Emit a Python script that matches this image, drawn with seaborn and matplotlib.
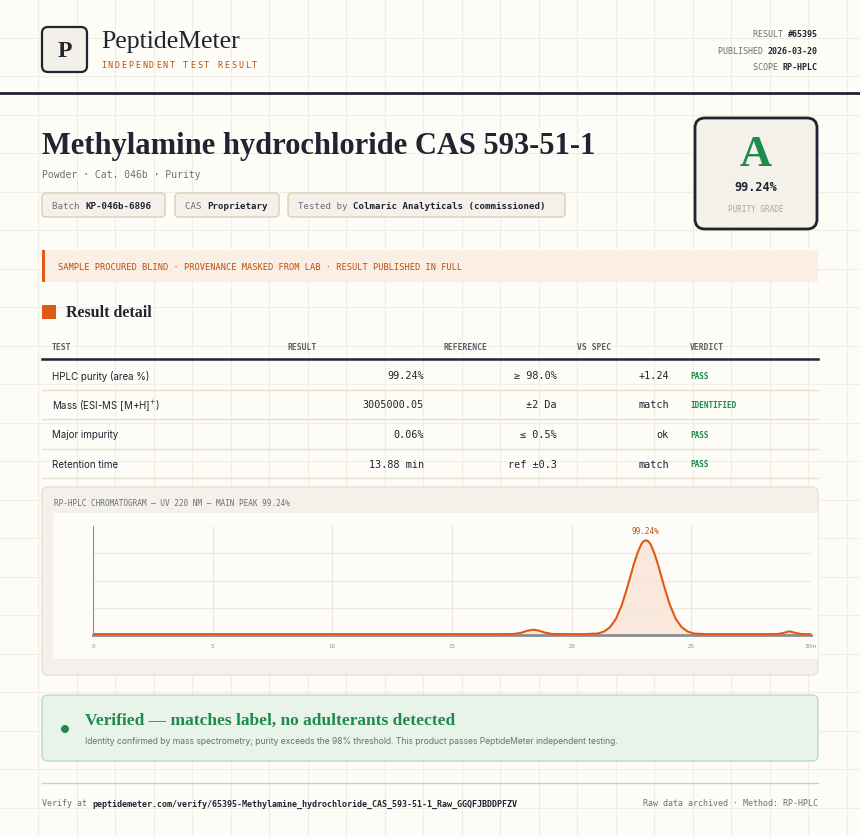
import matplotlib
matplotlib.use("Agg")
import matplotlib.pyplot as plt
import numpy as np
import pandas as pd
import seaborn as sns
from matplotlib.patches import FancyBboxPatch, Rectangle, Circle

# Chromatogram samples (minutes, relative signal %)
TIMES = [0, 17.0, 17.6, 17.9, 18.15, 18.4, 18.65, 18.9, 19.2, 19.8,
         20.5, 21.1, 21.35, 21.6, 21.85, 22.1, 22.35, 22.6, 22.75, 22.9, 23.0, 23.1,
         23.2, 23.3, 23.45, 23.6, 23.85, 24.1, 24.35, 24.6, 24.85, 25.1, 25.6,
         28.1, 28.6, 28.85, 29.1, 29.35, 29.6, 30.0]
SIGNAL = [0.9, 0.9, 1.1, 2.4, 4.5, 5.6, 4.5, 2.4, 1.1, 0.9,
          0.9, 1.6, 3.6, 8.2, 17.0, 32.0, 52.5, 75.0, 86.5, 95.4, 98.9, 100.0,
          98.9, 95.6, 86.5, 75.0, 52.5, 32.0, 17.0, 8.2, 3.6, 1.6, 0.9,
          0.9, 1.0, 2.2, 3.9, 2.2, 1.0, 0.9]
MAIN_PEAK = (23.1, 100.0, "99.24%")
X_TICKS = [0, 5, 10, 15, 20, 25, 30]
X_TICK_LABELS = ["0", "5", "10", "15", "20", "25", "30m"]

TABLE_HEADER = ["TEST", "RESULT", "REFERENCE", "VS SPEC", "VERDICT"]
TESTS = ["HPLC purity (area %)", "Mass (ESI-MS [M+H]$^{+}$)", "Major impurity", "Retention time"]
RESULTS = ["99.24%", "3005000.05", "0.06%", "13.88 min"]
REFERENCES = ["\u2265 98.0%", "\u00b12 Da", "\u2264 0.5%", "ref \u00b10.3"]
VS_SPEC = ["+1.24", "match", "ok", "match"]
VERDICTS = ["PASS", "IDENTIFIED", "PASS", "PASS"]

W, H = 860, 837
BG = "#fdfcf7"
INK = "#1e2430"
GRAY = "#6b6f78"
ORANGE = "#e05a14"
ORANGE_D = "#b8500f"
GREEN = "#1f8a4c"
MONO = "DejaVu Sans Mono"
SERIF = "Liberation Serif"
SANS = "Inter"

fig = plt.figure(figsize=(W / 100, H / 100), dpi=100, facecolor=BG)
page = fig.add_axes([0, 0, 1, 1])
page.set_xlim(0, W)
page.set_ylim(H, 0)
page.axis("off")

# faint page grid
for gx in np.arange(38, W, 38.5):
    page.axvline(gx, color="#efede4", lw=0.8, zorder=0)
for gy in np.arange(0, H, 38.5):
    page.axhline(gy, color="#efede4", lw=0.8, zorder=0)


def box(x0, y0, x1, y1, fc, ec="none", lw=1.0, r=4, z=1):
    page.add_patch(FancyBboxPatch((x0, y0), x1 - x0, y1 - y0,
                                  boxstyle=f"round,pad=0,rounding_size={r}",
                                  fc=fc, ec=ec, lw=lw, zorder=z))


def mono_pair(x, y, label, value, size, ha="left", lc=GRAY, vc=INK):
    cw = 0.602 * size * 100 / 72
    total = len(label + value) * cw
    start = x if ha == "left" else x - total
    page.text(start, y, label, family=MONO, size=size, color=lc, va="center", zorder=5)
    page.text(start + len(label) * cw, y, value, family=MONO, size=size, color=vc,
              weight="bold", va="center", zorder=5)


# header
box(42, 28, 87, 73, "#f3f0e8", INK, 1.6, r=6)
page.text(64.5, 51, "P", family=SERIF, size=17, weight="bold", color=INK, ha="center", va="center")
page.text(101, 42, "PeptideMeter", family=SERIF, size=18.5, color=INK, va="center")
for k, ch in enumerate("INDEPENDENT TEST RESULT"):
    page.text(101 + k * 6.85, 65, ch, family=MONO, size=6, color=ORANGE_D, va="center")
mono_pair(818, 34, "RESULT ", "#65395", 6, ha="right")
mono_pair(818, 51, "PUBLISHED ", "2026-03-20", 6, ha="right")
mono_pair(818, 67, "SCOPE ", "RP-HPLC", 6, ha="right")
page.axhline(94, color=INK, lw=2)

# title block
page.text(42, 146, "Methylamine hydrochloride CAS 593-51-1", family=SERIF, size=22,
          weight="bold", color=INK, va="center")
page.text(42, 175, "Powder \u00b7 Cat. 046b \u00b7 Purity", family=MONO, size=7, color=GRAY, va="center")
for x0, x1, label, value in [(42, 165, "Batch ", "KP-046b-6896"),
                             (175, 279, "CAS ", "Proprietary"),
                             (288, 565, "Tested by ", "Colmaric Analyticals (commissioned)")]:
    box(x0, 194, x1, 218, "#f4f1ea", "#d9cfb8", 1.0, r=4)
    mono_pair(x0 + 10, 206, label, value, 6.6)

box(695, 119, 817, 230, "#f4f1ea", INK, 2.0, r=10)
page.text(756, 155, "A", family=SERIF, size=32, weight="bold", color=GREEN, ha="center", va="center")
page.text(756, 187, "99.24%", family=MONO, size=8.5, weight="bold", color=INK, ha="center", va="center")
page.text(756, 209, "PURITY GRADE", family=MONO, size=5.5, color="#a9a69e", ha="center", va="center")

# banner
page.add_patch(Rectangle((42, 251), 776, 32, fc="#fbeee4", ec="none", zorder=1))
page.add_patch(Rectangle((42, 251), 3, 32, fc=ORANGE, ec="none", zorder=2))
page.text(58, 267, "SAMPLE PROCURED BLIND \u00b7 PROVENANCE MASKED FROM LAB \u00b7 RESULT PUBLISHED IN FULL",
          family=MONO, size=6.2, color=ORANGE_D, va="center")

# result detail table
page.add_patch(Rectangle((42, 306), 14, 14, fc=ORANGE, ec="none"))
page.text(66, 313, "Result detail", family=SERIF, size=11.5, weight="bold", color=INK, va="center")
for x, label in zip([52, 288, 443, 577, 690], TABLE_HEADER):
    page.text(x, 347, label, family=MONO, size=5.8, weight="bold", color="#5a5f6a", va="center")
page.plot([42, 818], [360, 360], color=INK, lw=1.8)
for i in range(len(TESTS)):
    y = 376 + i * 29.5
    page.text(52, y, TESTS[i], family=SANS, size=7, color=INK, va="center")
    page.text(424, y, RESULTS[i], family=MONO, size=7.3, color=INK, ha="right", va="center")
    page.text(557, y, REFERENCES[i], family=MONO, size=7.3, color=INK, ha="right", va="center")
    page.text(669, y, VS_SPEC[i], family=MONO, size=7.3, color=INK, ha="right", va="center")
    page.text(690, y, VERDICTS[i], family=MONO, size=5.6, weight="bold", color=GREEN, va="center")
    page.plot([42, 818], [y + 14.5, y + 14.5], color="#e6dfcf", lw=1)

# chromatogram card
box(42, 488, 818, 676, "#f4f1ea", "#e6e1d4", 1.0, r=6)
page.text(54, 503, "RP-HPLC CHROMATOGRAM \u2014 UV 220 NM \u2014 MAIN PEAK 99.24%", family=MONO,
          size=5.6, color=GRAY, va="center")
page.add_patch(Rectangle((53, 514), 765, 146, fc="#fefcf8", ec="none", zorder=2))

ax = fig.add_axes([93 / W, 1 - 636 / H, (811 - 93) / W, (636 - 527) / H])
ax.set_facecolor("#fefcf8")
df = pd.DataFrame({"time": TIMES, "signal": SIGNAL})
ax.fill_between(df["time"], 0, df["signal"], color="#f9e6d8", alpha=0.9, lw=0)
sns.lineplot(data=df, x="time", y="signal", ax=ax, color=ORANGE, lw=1.5, zorder=5)
ax.annotate(MAIN_PEAK[2], (MAIN_PEAK[0], MAIN_PEAK[1]), xytext=(0, 4), textcoords="offset points",
            ha="center", va="bottom", family=MONO, size=5.5, color=ORANGE_D)
ax.set_xlim(0, 30)
ax.set_ylim(0, 115)
ax.set_xticks(X_TICKS)
ax.set_xticklabels(X_TICK_LABELS)
ax.set_yticks([28.75, 57.5, 86.25])
ax.set_yticklabels([])
ax.tick_params(axis="both", length=0, labelsize=4, labelcolor="#8a8d94", pad=6)
ax.grid(color="#ece8dc", lw=0.9)
ax.set_xlabel("")
ax.set_ylabel("")
for side in ("top", "right"):
    ax.spines[side].set_visible(False)
ax.spines["left"].set_color("#8a8d94")
ax.spines["bottom"].set_color("#8a8d94")
ax.spines["bottom"].set_linewidth(2)

# verified box
box(42, 696, 818, 762, "#e8f3ea", "#b9dcc3", 1.0, r=6)
page.add_patch(Circle((65, 730), 4, fc=GREEN, ec="none", zorder=3))
page.text(85, 721, "Verified \u2014 matches label, no adulterants detected", family=SERIF, size=12.5,
          weight="bold", color=GREEN, va="center")
page.text(85, 742, "Identity confirmed by mass spectrometry; purity exceeds the 98% threshold. "
          "This product passes PeptideMeter independent testing.", family=SANS, size=6.2,
          color=GRAY, va="center")

# footer
page.plot([42, 818], [784, 784], color="#d9cfb8", lw=1)
mono_pair(42, 804, "Verify at ",
          "peptidemeter.com/verify/65395-Methylamine_hydrochloride_CAS_593-51-1_Raw_GGQFJBDDPFZV", 6.0)
page.text(818, 804, "Raw data archived \u00b7 Method: RP-HPLC", family=MONO, size=6.0, color=GRAY,
          ha="right", va="center")

fig.savefig("out.png", dpi=100, facecolor=BG)
